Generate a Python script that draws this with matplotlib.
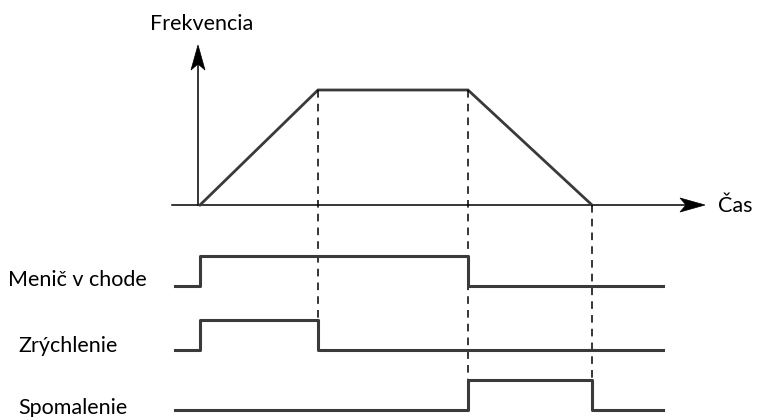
import matplotlib
matplotlib.use("Agg")
import matplotlib.pyplot as plt

# Time events (arbitrary time units)
t_start = 0
t_acc_end = 118
t_dec_start = 268
t_stop = 392
t_begin = -25
t_end = 463

# Frequency profile (normalized)
freq_t = [t_start, t_acc_end, t_dec_start, t_stop]
freq_v = [0, 1, 1, 0]

# Digital signals (step: value from this time on)
signal_names = ["Menič v chode", "Zrýchlenie", "Spomalenie"]
menic_t = [t_begin, t_start, t_dec_start, t_end]
menic_v = [0, 1, 0, 0]
zrych_t = [t_begin, t_start, t_acc_end, t_end]
zrych_v = [0, 1, 0, 0]
spom_t = [t_begin, t_dec_start, t_stop, t_end]
spom_v = [0, 1, 0, 0]
signals_t = [menic_t, zrych_t, spom_t]
signals_v = [menic_v, zrych_v, spom_v]

# Layout (pixel-like coordinates, y downward)
FONT = ["Lato", "DejaVu Sans"]
FS = 15.5
freq_base, freq_amp = 205, 115
row_base = [286, 350, 410]
row_amp = 30
label_x = [-192, -182, -182]
label_y = [286, 352, 414]
line_col = "#3a3a3a"

fig = plt.figure(figsize=(7.57, 4.17), dpi=100)
ax = fig.add_axes([0, 0, 1, 1])
ax.set_xlim(-200, 557)
ax.set_ylim(417, 0)
ax.axis("off")


def arrow_head(tip_x, tip_y, dx, dy, length=25, half=7, notch=6):
    # concave (stealth-like) arrow head pointing in direction (dx, dy)
    px, py = -dy, dx
    bx, by = tip_x - dx * length, tip_y - dy * length
    nx, ny = bx + dx * notch, by + dy * notch
    xs = [tip_x, bx + px * half, nx, bx - px * half]
    ys = [tip_y, by + py * half, ny, by - py * half]
    ax.fill(xs, ys, color="black", lw=0.5, zorder=3)


# axes
ax.plot([-28, 495], [freq_base, freq_base], color="black", lw=1.1)
arrow_head(505, freq_base, 1, 0)
ax.plot([-2, -2], [freq_base, 60], color="black", lw=1.1)
arrow_head(-2, 45, 0, -1)
ax.text(-50, 30, "Frekvencia", fontsize=FS, family=FONT, va="baseline", ha="left")
ax.text(518, 212, "Čas", fontsize=FS, family=FONT, va="baseline", ha="left")

# frequency curve
ax.plot(freq_t, [freq_base - freq_amp * v for v in freq_v], color=line_col, lw=2.0,
        solid_joinstyle="miter")

# dashed guide lines
ax.plot([t_acc_end, t_acc_end], [freq_base - freq_amp, row_base[1]], color="black",
        lw=1.1, ls=(0, (5, 4)))
ax.plot([t_dec_start, t_dec_start], [freq_base - freq_amp, row_base[2] - row_amp],
        color="black", lw=1.1, ls=(0, (5, 4)))
ax.plot([t_stop, t_stop], [freq_base, row_base[2]], color="black",
        lw=1.1, ls=(0, (5, 4)))

# digital signals
for name, ts, vs, base, lx, ly in zip(signal_names, signals_t, signals_v, row_base,
                                      label_x, label_y):
    ax.step(ts, [base - row_amp * v for v in vs], where="post", color=line_col, lw=2.2)
    ax.text(lx, ly, name, fontsize=FS, family=FONT, va="baseline", ha="left")

fig.savefig("out.png", dpi=100)
